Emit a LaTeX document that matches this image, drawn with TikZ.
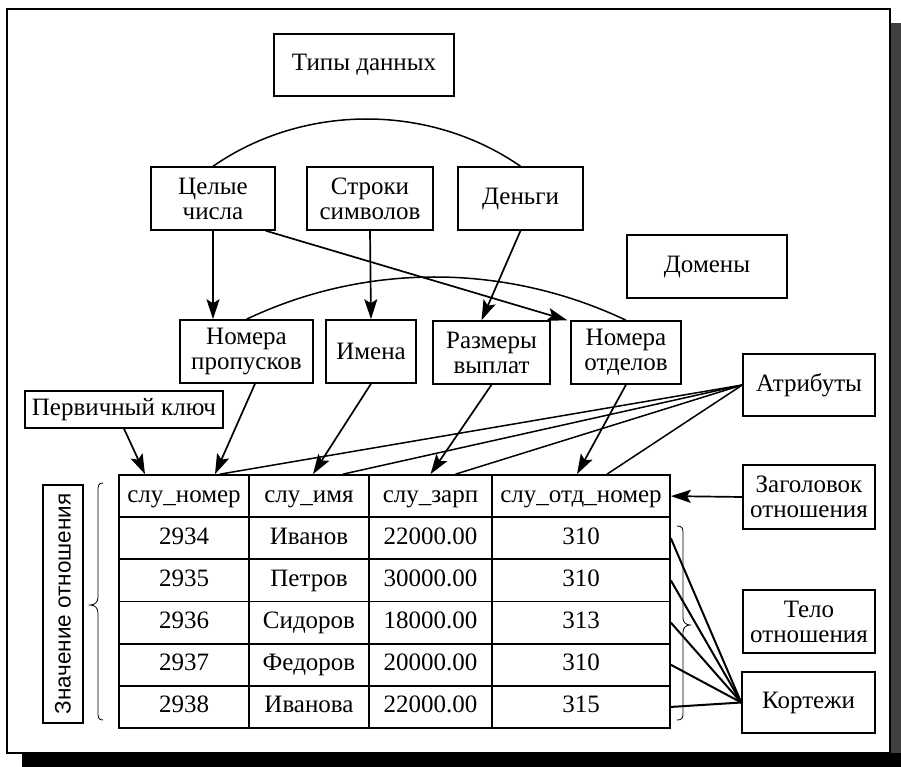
\documentclass[tikz,border=0pt]{standalone}
\usepackage{fontspec}
\setmainfont{Liberation Serif}
\setsansfont{Liberation Sans}
\usetikzlibrary{arrows.meta,calc}
\begin{document}
\begin{tikzpicture}[x=1pt,y=-1pt,
  box/.style={draw,line width=1.5pt,align=center,inner sep=0pt,font=\fontsize{25}{25}\selectfont},
  cell/.style={draw,line width=1.7pt,inner sep=0pt,minimum height=42.17pt,text height=17pt,text depth=5pt,font=\fontsize{25}{25}\selectfont},
  arr/.style={line width=1.7pt,-{Stealth[length=20pt,width=13pt,inset=4pt]}},
  lnk/.style={line width=1.5pt},
  kline/.style={line width=2pt},
  bracestyle/.style={line width=0.8pt}]
\useasboundingbox (0,0) rectangle (901,767);
% frame with shadow
\fill[black!75] (890,23) rectangle (901,767);
\fill[black] (22,753) rectangle (901,767);
\draw[line width=1.2pt,fill=white] (7,9) rectangle (890,753);

% boxes
\node[box,minimum width=180pt,minimum height=62pt] (tipy) at (364,65) {Типы данных};
\node[box,minimum width=124pt,minimum height=63pt] (cel) at (213,198.5) {Целые\\числа};
\node[box,minimum width=126pt,minimum height=63pt] (str) at (370,198.5) {Строки\\символов};
\node[box,minimum width=125pt,minimum height=63pt] (den) at (520.5,198.5) {Деньги};
\node[box,minimum width=160pt,minimum height=63pt] (dom) at (707,266.5) {Домены};
\node[box,minimum width=133pt,minimum height=63pt] (np) at (246.5,351.5) {Номера\\пропусков};
\node[box,minimum width=90pt,minimum height=63pt] (im) at (371,351.5) {Имена};
\node[box,minimum width=117pt,minimum height=63pt] (rz) at (491.5,352.5) {Размеры\\выплат};
\node[box,minimum width=110pt,minimum height=63pt] (no) at (626,352.5) {Номера\\отделов};
\node[box,minimum width=132pt,minimum height=62pt] (atr) at (809,385) {Атрибуты};
\node[box,minimum width=198pt,minimum height=37pt] (pk) at (124,409.5) {Первичный ключ};
\node[box,minimum width=132pt,minimum height=64pt] (zag) at (809,497) {Заголовок\\отношения};
\node[box,minimum width=132pt,minimum height=63pt] (telo) at (809,621.5) {Тело\\отношения};
\node[box,minimum width=133pt,minimum height=61pt] (kort) at (808.5,702.5) {Кортежи};
\node[box,rotate=90,minimum width=238pt,minimum height=40pt,font=\sffamily\fontsize{22.5}{22}\selectfont] (zn) at (63,604) {Значение отношения};

% table
\foreach \r/\a/\b/\cc/\d in {0/слу\_номер/слу\_имя/слу\_зарп/слу\_отд\_номер,
  1/2934/Иванов/22000.00/310, 2/2935/Петров/30000.00/310,
  3/2936/Сидоров/18000.00/313, 4/2937/Федоров/20000.00/310,
  5/2938/Иванова/22000.00/315} {
  \node[cell,minimum width=130pt] (t\r1) at (184,{475+42.17*(\r+0.5)}) {\a};
  \node[cell,minimum width=120pt] (t\r2) at (309,{475+42.17*(\r+0.5)}) {\b};
  \node[cell,minimum width=123pt] (t\r3) at (430.5,{475+42.17*(\r+0.5)}) {\cc};
  \node[cell,minimum width=178pt] (t\r4) at (581,{475+42.17*(\r+0.5)}) {\d};
}

% arcs
\draw[lnk] (cel.north) .. controls +(91,-63) and +(-91,-63) .. (den.north);
\draw[lnk] (np.north) .. controls +(120,-57) and +(-120,-57) .. (no.north);

% type -> domain arrows
\draw[arr] (cel.south) -- ([xshift=-33.5pt]np.north);
\draw[arr] (str.south) -- (im.north);
\draw[arr] (den.south) -- ([xshift=-10pt]rz.north);
\draw[arr] ([xshift=-10pt]cel.south east) -- ([xshift=-3pt]no.north west);

% domain -> attribute arrows
\draw[arr] ([xshift=8.5pt]np.south) -- ([xshift=31pt]t01.north);
\draw[arr] (pk.south) -- ([xshift=-39pt]t01.north);
\draw[arr] (im.south) -- ([xshift=4pt]t02.north);
\draw[arr] (rz.south) -- (t03.north);
\draw[arr] (no.south) -- ([xshift=-4pt]t04.north);
\draw[arr] (zag.west) -- (t04.east);

% attributes lines
\foreach \t/\s in {t01/36, t02/34, t03/25, t04/26}
  \draw[lnk] (atr.west) -- ([xshift=\s pt]\t.north);

% braces
\draw[bracestyle] (103,483) .. controls (98,483) and (98,486) .. (98,492) -- (98,597)
  .. controls (98,602) and (95,605) .. (90,605) .. controls (95,605) and (98,608) .. (98,613)
  -- (98,711) .. controls (98,717) and (98,720) .. (103,720);
\draw[bracestyle] (677,526) .. controls (682,526) and (683,528) .. (683,533) -- (683,618)
  .. controls (683,622) and (686,625) .. (690,625) .. controls (686,625) and (683,628) .. (683,632)
  -- (683,713) .. controls (683,718) and (682,720) .. (677,720);

% tuples lines
\foreach \r in {1,...,5}
  \draw[kline] (t\r4.east) -- (kort.west);
\end{tikzpicture}
\end{document}
